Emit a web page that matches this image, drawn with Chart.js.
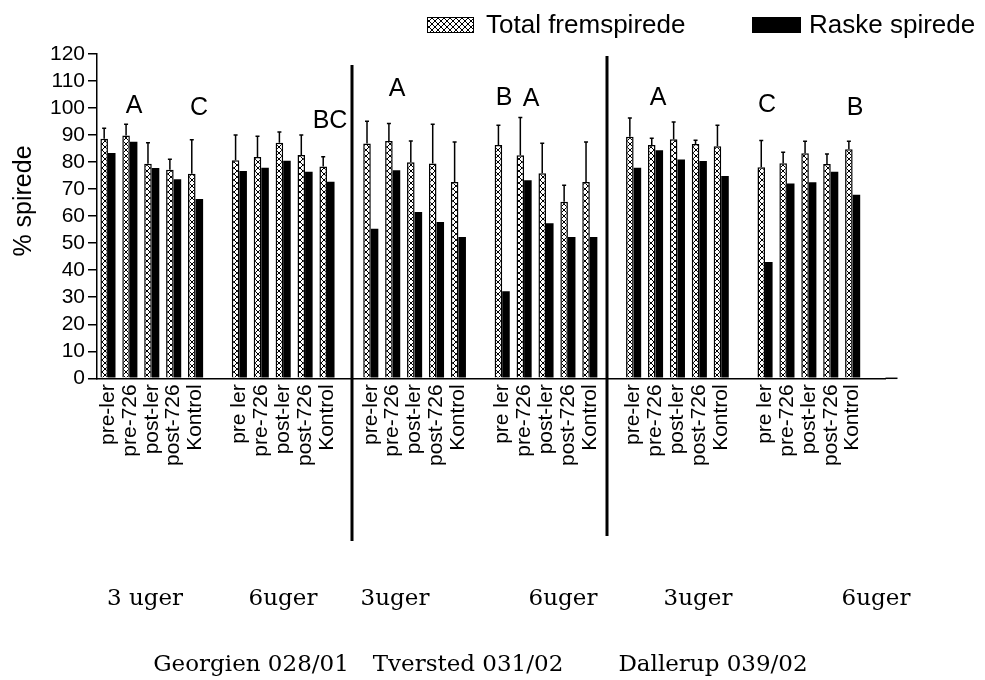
<!DOCTYPE html>
<html>
<head>
<meta charset="utf-8">
<script src="https://cdn.jsdelivr.net/npm/chart.js@4.4.0/dist/chart.umd.min.js"></script>
<style>
  html, body { margin: 0; padding: 0; background: #fff; }
</style>
</head>
<body>
<canvas id="spire-chart" width="985" height="680"></canvas>
<script>
// x categories, one empty slot after every group of five
const categories = [
    'pre-ler', 'pre-726', 'post-ler', 'post-726', 'Kontrol', '',
    'pre ler', 'pre-726', 'post-ler', 'post-726', 'Kontrol', '',
    'pre-ler', 'pre-726', 'post-ler', 'post-726', 'Kontrol', '',
    'pre ler', 'pre-726', 'post-ler', 'post-726', 'Kontrol', '',
    'pre-ler', 'pre-726', 'post-ler', 'post-726', 'Kontrol', '',
    'pre ler', 'pre-726', 'post-ler', 'post-726', 'Kontrol', ''
];

// Total fremspirede (%)
const totalValues = [
    88.6, 89.8, 79.4, 77.2, 75.7, null,
    80.7, 81.9, 87.2, 82.6, 78.4, null,
    86.9, 87.8, 79.9, 79.5, 72.6, null,
    86.3, 82.5, 75.9, 65.3, 72.6, null,
    89.4, 86.3, 88.5, 86.7, 85.9, null,
    78.1, 79.6, 83.3, 79.3, 84.8, null
];

// error bar (upper) on total fremspirede
const totalErrors = [
    3.9, 4.2, 7.8, 3.9, 12.6, null,
    9.3, 7.7, 3.9, 7.4, 3.6, null,
    8.2, 6.5, 7.9, 14.5, 14.8, null,
    7.3, 14.0, 11.1, 6.1, 14.8, null,
    6.9, 2.5, 6.3, 1.4, 7.7, null,
    9.9, 4.0, 4.4, 3.7, 2.9, null
];

// Raske spirede (%)
const raskeValues = [
    83.4, 87.5, 77.8, 73.7, 66.3, null,
    76.7, 77.9, 80.5, 76.4, 72.7, null,
    55.3, 77.0, 61.5, 57.8, 52.3, null,
    32.2, 73.3, 57.4, 52.3, 52.3, null,
    77.9, 84.4, 81.0, 80.4, 74.9, null,
    43.0, 72.1, 72.5, 76.4, 67.9, null
];

const yMin = 0;
const yMax = 120;
const yStep = 10;

const seriesNames = ['Total fremspirede', 'Raske spirede'];

// letters above the groups
const letters = [
    { text: 'A', x: 134, y: 106 },
    { text: 'C', x: 199, y: 108 },
    { text: 'BC', x: 330, y: 121 },
    { text: 'A', x: 397, y: 89 },
    { text: 'B', x: 504, y: 98 },
    { text: 'A', x: 531, y: 99 },
    { text: 'A', x: 658, y: 98 },
    { text: 'C', x: 767, y: 105 },
    { text: 'B', x: 855, y: 108 }
];

const weekTexts = [
    { text: '3 uger', x: 145 },
    { text: '6uger', x: 283 },
    { text: '3uger', x: 395 },
    { text: '6uger', x: 563 },
    { text: '3uger', x: 698 },
    { text: '6uger', x: 876 }
];

const siteTexts = [
    { text: 'Georgien 028/01', x: 251 },
    { text: 'Tversted 031/02', x: 468 },
    { text: 'Dallerup 039/02', x: 713 }
];

const separators = [
    { x: 352, top: 65, bottom: 541 },
    { x: 607, top: 56, bottom: 536 }
];

const sansFont = '"Liberation Sans", Arial, sans-serif';
const serifFont = '"DejaVu Serif", "Liberation Serif", serif';

function makeHatch(ctx) {
    const c = document.createElement('canvas');
    c.width = 6;
    c.height = 6;
    const g = c.getContext('2d');
    g.fillStyle = '#fff';
    g.fillRect(0, 0, 6, 6);
    g.strokeStyle = '#000';
    g.lineWidth = 1;
    g.beginPath();
    g.moveTo(0, 0); g.lineTo(6, 6);
    g.moveTo(6, 0); g.lineTo(0, 6);
    g.stroke();
    return ctx.createPattern(c, 'repeat');
}

const canvas = document.getElementById('spire-chart');
const hatch = makeHatch(canvas.getContext('2d'));

// error bars, annotations, legend
const extrasPlugin = {
    id: 'extras',
    afterDatasetsDraw(chart) {
        const ctx = chart.ctx;
        const yScale = chart.scales.y;
        const meta = chart.getDatasetMeta(0);
        ctx.save();
        ctx.strokeStyle = '#000';
        ctx.lineWidth = 1.5;
        meta.data.forEach((bar, i) => {
            if (totalValues[i] == null) return;
            const yTop = yScale.getPixelForValue(totalValues[i] + totalErrors[i]);
            ctx.beginPath();
            ctx.moveTo(bar.x, bar.y);
            ctx.lineTo(bar.x, yTop);
            ctx.moveTo(bar.x - 2, yTop);
            ctx.lineTo(bar.x + 2, yTop);
            ctx.stroke();
        });
        ctx.restore();
    },
    afterDraw(chart) {
        const ctx = chart.ctx;
        const area = chart.chartArea;
        ctx.save();

        // x axis runs a bit past the last slot
        ctx.strokeStyle = '#000';
        ctx.lineWidth = 1.5;
        ctx.beginPath();
        ctx.moveTo(area.right, area.bottom);
        ctx.lineTo(area.right + 12, area.bottom);
        ctx.stroke();

        ctx.lineWidth = 3;
        separators.forEach(s => {
            ctx.beginPath();
            ctx.moveTo(s.x, s.top);
            ctx.lineTo(s.x, s.bottom);
            ctx.stroke();
        });

        ctx.fillStyle = '#000';
        ctx.textAlign = 'center';
        ctx.textBaseline = 'middle';
        ctx.font = '25px ' + sansFont;
        letters.forEach(l => ctx.fillText(l.text, l.x, l.y));

        ctx.textBaseline = 'alphabetic';
        ctx.font = '23px ' + serifFont;
        weekTexts.forEach(t => ctx.fillText(t.text, t.x, 605));
        siteTexts.forEach(t => ctx.fillText(t.text, t.x, 671));

        // y title
        ctx.save();
        ctx.translate(24, 201);
        ctx.rotate(-Math.PI / 2);
        ctx.font = '25px ' + sansFont;
        ctx.textBaseline = 'middle';
        ctx.fillText('% spirede', 0, 0);
        ctx.restore();

        // legend
        ctx.font = '26px ' + sansFont;
        ctx.textAlign = 'left';
        ctx.textBaseline = 'alphabetic';
        ctx.fillStyle = hatch;
        ctx.fillRect(427, 17, 47, 16);
        ctx.lineWidth = 1;
        ctx.strokeRect(427.5, 17.5, 46, 15);
        ctx.fillStyle = '#000';
        ctx.fillText(seriesNames[0], 486, 33);
        ctx.fillRect(752, 17, 49, 16);
        ctx.fillText(seriesNames[1], 809, 33);

        ctx.restore();
    }
};

new Chart(canvas, {
    type: 'bar',
    data: {
        labels: categories,
        datasets: [
            {
                label: seriesNames[0],
                data: totalValues,
                backgroundColor: hatch,
                borderColor: '#000',
                borderWidth: 1.5,
                borderSkipped: 'bottom'
            },
            {
                label: seriesNames[1],
                data: raskeValues,
                backgroundColor: '#000',
                borderWidth: 0
            }
        ]
    },
    options: {
        responsive: false,
        animation: false,
        categoryPercentage: 0.69,
        barPercentage: 1.0,
        layout: {
            padding: { top: 54, right: 99.5, bottom: 201.7, left: 0 }
        },
        plugins: {
            legend: { display: false },
            tooltip: { enabled: false }
        },
        scales: {
            x: {
                grid: { display: false, drawTicks: false },
                border: { display: true, color: '#000', width: 1.5 },
                ticks: {
                    autoSkip: false,
                    minRotation: 90,
                    maxRotation: 90,
                    color: '#000',
                    padding: 6,
                    font: { family: sansFont, size: 21 }
                },
                afterFit: (scale) => { scale.height = 100; }
            },
            y: {
                min: yMin,
                max: yMax,
                ticks: {
                    stepSize: yStep,
                    autoSkip: false,
                    color: '#000',
                    padding: 3,
                    font: { family: sansFont, size: 21 }
                },
                grid: {
                    drawOnChartArea: false,
                    drawTicks: true,
                    tickLength: 9,
                    color: '#000',
                    lineWidth: 1.5
                },
                border: { display: true, color: '#000', width: 1.5 },
                afterFit: (scale) => { scale.width = 97; }
            }
        }
    },
    plugins: [extrasPlugin]
});
</script>
</body>
</html>
